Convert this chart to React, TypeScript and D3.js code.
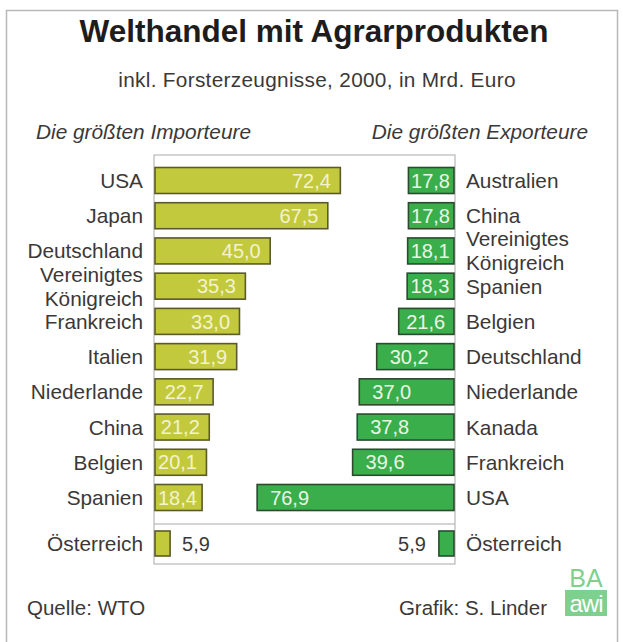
import React from "react";
import * as d3 from "d3";

const importCountries = ["USA", "Japan", "Deutschland", "Vereinigtes Königreich", "Frankreich", "Italien", "Niederlande", "China", "Belgien", "Spanien"];
const importValues = [72.4, 67.5, 45.0, 35.3, 33.0, 31.9, 22.7, 21.2, 20.1, 18.4];
const exportCountries = ["Australien", "China", "Vereinigtes Königreich", "Spanien", "Belgien", "Deutschland", "Niederlande", "Kanada", "Frankreich", "USA"];
const exportValues = [17.8, 17.8, 18.1, 18.3, 21.6, 30.2, 37.0, 37.8, 39.6, 76.9];
const extraCountry = "Österreich";
const extraImport = 5.9;
const extraExport = 5.9;

const title = "Welthandel mit Agrarprodukten";
const subtitle = "inkl. Forsterzeugnisse, 2000, in Mrd. Euro";
const importHeader = "Die größten Importeure";
const exportHeader = "Die größten Exporteure";
const source = "Quelle: WTO";
const credit = "Grafik: S. Linder";

const FONT = "'Liberation Sans', Arial, Helvetica, sans-serif";
const fmt = (v: number) => d3.format(".1f")(v).replace(".", ",");

export default function App() {
  const W = 623, H = 642;
  const boxL = 154, boxR = 455, boxT = 155, boxB = 564, sepY = 524;
  const xImp = d3.scaleLinear().domain([0, 80]).range([boxL + 1, boxL + 1 + 80 * 2.56]);
  const xExp = d3.scaleLinear().domain([0, 80]).range([boxR - 1, boxR - 1 - 80 * 2.56]);
  const y = d3.scalePoint<number>().domain(d3.range(10)).range([180.5, 497.5]);
  const barH = 26;
  const extraY = 543.5;
  const fs = 20.8;
  const valFs = 20;
  const textW = valFs * 2.02;
  const labelColor = "#3b3838";

  const impFill = "#c3c93d", impStroke = "#5b5a2b", impText = "#f3f3cf";
  const expFill = "#3aae4b", expStroke = "#2d4a30", expText = "#e9f6e6";

  const label = (text: string, x: number, cy: number, anchor: string, key: string) => {
    const parts = text === "Vereinigtes Königreich" ? ["Vereinigtes", "Königreich"] : [text];
    return (
      <text key={key} x={x} y={cy} textAnchor={anchor} fontSize={fs} fill={labelColor} fontFamily={FONT}>
        {parts.length === 1 ? (
          <tspan x={x} dy="0.36em">{parts[0]}</tspan>
        ) : (
          <>
            <tspan x={x} dy={-12 + fs * 0.36}>{parts[0]}</tspan>
            <tspan x={x} dy={24}>{parts[1]}</tspan>
          </>
        )}
      </text>
    );
  };

  return (
    <svg width={W} height={H} style={{ position: "absolute", left: 0, top: 0 }}>
      <rect x={0} y={0} width={W} height={H} fill="#ffffff" />
      <rect x={6.5} y={10.5} width={611} height={640} fill="none" stroke="#b8b8b8" strokeWidth={1.5} />
      <text x={314} y={42} textAnchor="middle" fontSize={31.5} fontWeight="bold" fill="#1e1c1c" fontFamily={FONT}>{title}</text>
      <text x={317} y={87} textAnchor="middle" fontSize={20.8} letterSpacing={0.3} fill={labelColor} fontFamily={FONT}>{subtitle}</text>
      <text x={36} y={139} fontSize={20.8} fontStyle="italic" fill={labelColor} fontFamily={FONT}>{importHeader}</text>
      <text x={588} y={139} textAnchor="end" fontSize={20.8} fontStyle="italic" fill={labelColor} fontFamily={FONT}>{exportHeader}</text>

      {/* plot box */}
      <rect x={boxL} y={boxT} width={boxR - boxL} height={boxB - boxT} fill="none" stroke="#a9a9a9" strokeWidth={1} />
      <line x1={boxL} x2={boxR} y1={sepY} y2={sepY} stroke="#a9a9a9" strokeWidth={1} />

      {importValues.map((v, i) => {
        const x0 = xImp(0), x1 = xImp(v), len = x1 - x0;
        const cy = y(i)!;
        const tx = Math.max(x0 + 3, x1 - 8 - textW);
        return (
          <g key={"imp" + i}>
            <rect x={x0} y={cy - barH / 2} width={len} height={barH} fill={impFill} stroke={impStroke} strokeWidth={1.6} />
            <text x={tx} y={cy} dy="0.36em" fontSize={valFs} fill={impText} fontFamily={FONT}>{fmt(v)}</text>
            {label(importCountries[i], 143, cy, "end", "il" + i)}
          </g>
        );
      })}

      {exportValues.map((v, i) => {
        const x0 = xExp(0), x1 = xExp(v), len = x0 - x1;
        const cy = y(i)!;
        const tx = x1 + Math.max(2, Math.min(13, (len - textW) / 2));
        return (
          <g key={"exp" + i}>
            <rect x={x1} y={cy - barH / 2} width={len} height={barH} fill={expFill} stroke={expStroke} strokeWidth={1.6} />
            <text x={tx} y={cy} dy="0.36em" fontSize={valFs} fill={expText} fontFamily={FONT}>{fmt(v)}</text>
            {label(exportCountries[i], 466, cy, "start", "el" + i)}
          </g>
        );
      })}

      {/* Österreich */}
      <rect x={xImp(0)} y={extraY - 12.5} width={xImp(extraImport) - xImp(0)} height={25} fill={impFill} stroke={impStroke} strokeWidth={1.6} />
      <text x={xImp(extraImport) + 12} y={extraY} dy="0.36em" fontSize={valFs} fill={labelColor} fontFamily={FONT}>{fmt(extraImport)}</text>
      {label(extraCountry, 143, extraY, "end", "ie")}
      <rect x={xExp(extraExport)} y={extraY - 12.5} width={xExp(0) - xExp(extraExport)} height={25} fill={expFill} stroke={expStroke} strokeWidth={1.6} />
      <text x={xExp(extraExport) - 13} y={extraY} dy="0.36em" textAnchor="end" fontSize={valFs} fill={labelColor} fontFamily={FONT}>{fmt(extraExport)}</text>
      {label(extraCountry, 466, extraY, "start", "ee")}

      {/* footer */}
      <text x={27} y={615} fontSize={20.5} fill={labelColor} fontFamily={FONT}>{source}</text>
      <text x={547} y={615} textAnchor="end" fontSize={20.5} fill={labelColor} fontFamily={FONT}>{credit}</text>
      <text x={586} y={587} textAnchor="middle" fontSize={25} fill="#7dd08d" fontFamily={FONT}>BA</text>
      <rect x={565} y={590} width={42} height={26} fill="#7dd08d" />
      <text x={586} y={612} textAnchor="middle" fontSize={24} fill="#ffffff" fontFamily={FONT} letterSpacing={-1}>awi</text>
    </svg>
  );
}
